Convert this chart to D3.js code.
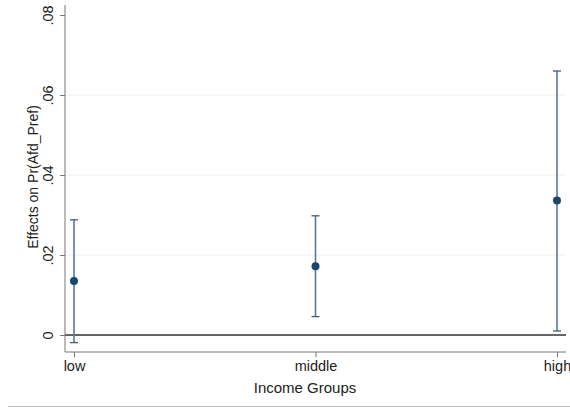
<!DOCTYPE html>
<html>
<head>
<meta charset="utf-8">
<script src="https://cdn.jsdelivr.net/npm/d3@7"></script>
<style>
  body { margin: 0; background: #fff; }
  svg { display: block; font-family: "Liberation Sans", Arial, sans-serif; }
</style>
</head>
<body>
<div id="chart"></div>
<script>
// Data
var groups = ["low", "middle", "high"];
var estimates = [0.0135, 0.0172, 0.0336];
var lower = [-0.0019, 0.0046, 0.0010];
var upper = [0.0288, 0.0298, 0.0660];
var yTicks = [0, 0.02, 0.04, 0.06, 0.08];
var yTickLabels = ["0", ".02", ".04", ".06", ".08"];

var W = 570, H = 408;
var svg = d3.select("#chart").append("svg").attr("width", W).attr("height", H);

var plotLeft = 65, plotRight = 566, plotBottom = 352, plotTop = 5;
var x = d3.scalePoint().domain(groups).range([74, 557]);
var y = d3.scaleLinear().domain([0, 0.08]).range([335, 15]);

// gridlines
svg.append("g").selectAll("line")
  .data(yTicks.filter(function(d) { return d > 0 && d < 0.08; }))
  .enter().append("line")
  .attr("x1", plotLeft).attr("x2", plotRight)
  .attr("y1", function(d) { return y(d); }).attr("y2", function(d) { return y(d); })
  .style("stroke", "#eaeef2").style("stroke-width", 1);

// zero line
svg.append("line")
  .attr("x1", plotLeft).attr("x2", plotRight)
  .attr("y1", y(0)).attr("y2", y(0))
  .style("stroke", "#333").style("stroke-width", 1.3);

// y axis
var yAxis = d3.axisLeft(y).tickValues(yTicks)
  .tickFormat(function(d, i) { return yTickLabels[i]; })
  .tickSize(5);
var gy = svg.append("g").attr("transform", "translate(" + plotLeft + ",0)").call(yAxis);
gy.select(".domain").attr("d", "M0," + plotTop + "V" + plotBottom).style("stroke", "#777");
gy.selectAll(".tick line").style("stroke", "#777");
gy.selectAll(".tick text")
  .attr("transform", "translate(-17,0) rotate(-90)")
  .attr("x", 0).attr("y", 0).attr("dy", "0.35em")
  .style("text-anchor", "middle")
  .style("font-size", "14.5px").style("fill", "#222");

// x axis
var xAxis = d3.axisBottom(x).tickSize(5).tickPadding(4);
var gx = svg.append("g").attr("transform", "translate(0," + plotBottom + ")").call(xAxis);
gx.select(".domain").attr("d", "M" + plotLeft + ",0H" + plotRight).style("stroke", "#777");
gx.selectAll(".tick line").style("stroke", "#777");
gx.selectAll(".tick text").style("font-size", "14.5px").style("fill", "#222");

// error bars
var bars = svg.append("g").selectAll("g").data(groups).enter().append("g");
bars.append("line")
  .attr("x1", function(d) { return x(d); }).attr("x2", function(d) { return x(d); })
  .attr("y1", function(d, i) { return y(lower[i]); })
  .attr("y2", function(d, i) { return y(upper[i]); })
  .style("stroke", "#55799b").style("stroke-width", 1.6);
[lower, upper].forEach(function(arr) {
  bars.append("line")
    .attr("x1", function(d) { return x(d) - 4; }).attr("x2", function(d) { return x(d) + 4; })
    .attr("y1", function(d, i) { return y(arr[i]); })
    .attr("y2", function(d, i) { return y(arr[i]); })
    .style("stroke", "#4a5a6a").style("stroke-width", 1.3);
});
bars.append("circle")
  .attr("cx", function(d) { return x(d); })
  .attr("cy", function(d, i) { return y(estimates[i]); })
  .attr("r", 4)
  .style("fill", "#1a476f");

// axis titles
svg.append("text")
  .attr("transform", "translate(33,177) rotate(-90)")
  .attr("dy", "0.35em")
  .style("text-anchor", "middle").style("font-size", "14px").style("fill", "#222")
  .text("Effects on Pr(Afd_Pref)");
svg.append("text")
  .attr("x", 305).attr("y", 388).attr("dy", "0.35em")
  .style("text-anchor", "middle").style("font-size", "15px").style("fill", "#222")
  .text("Income Groups");

// bottom separator
svg.append("line")
  .attr("x1", 8).attr("x2", W).attr("y1", 406.5).attr("y2", 406.5)
  .style("stroke", "#bbb").style("stroke-width", 1);
</script>
</body>
</html>
